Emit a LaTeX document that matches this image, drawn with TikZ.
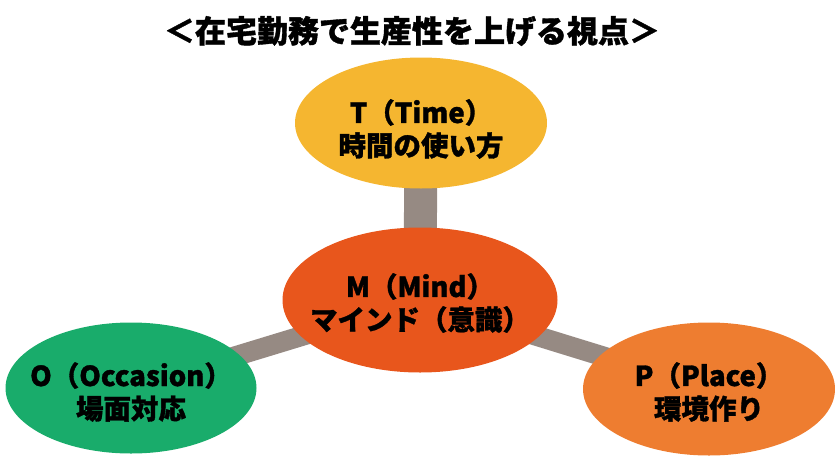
\documentclass[tikz,border=0pt]{standalone}
\usepackage{fontspec}
\setmainfont{Noto Sans CJK JP}[BoldFeatures={FakeBold=1.2}]
\usetikzlibrary{shapes.geometric,backgrounds}

\definecolor{timegold}{HTML}{F5B630}
\definecolor{mindred}{HTML}{E8561C}
\definecolor{placeorange}{HTML}{EE7D30}
\definecolor{occgreen}{HTML}{19AC6B}
\definecolor{linkgray}{HTML}{968A83}

\begin{document}
\begin{tikzpicture}[x=1pt,y=-1pt,
    bubble/.style={ellipse,inner sep=0pt},
    caption/.style={align=center,inner sep=0pt,
      font=\bfseries\fontsize{27.5}{33}\selectfont},
    link/.style={draw=linkgray,line width=20pt}]
    \useasboundingbox (0,0) rectangle (835,455);
    \node (title) at (412,31) {\bfseries\fontsize{31}{31}\selectfont ＜在宅勤務で生産性を上げる視点＞};
    % the four bubbles
    \node[bubble,fill=timegold,minimum width=252pt,minimum height=131pt] (t) at (421,123) {};
    \node[bubble,fill=mindred,minimum width=275pt,minimum height=145pt] (m) at (420,300) {};
    \node[bubble,fill=occgreen,minimum width=251pt,minimum height=131pt] (o) at (131,388) {};
    \node[bubble,fill=placeorange,minimum width=252pt,minimum height=133pt] (p) at (709,389) {};
    % their texts
    \node[caption] (tcap) at ([yshift=-6pt]t.center) {T（Time）\\時間の使い方};
    \node[caption] (mcap) at ([yshift=-3pt]m.center) {M（Mind）\\マインド（意識）};
    \node[caption] (ocap) at ([yshift=-4pt]o.center) {O（Occasion）\\場面対応};
    \node[caption] (pcap) at ([yshift=-3pt]p.center) {P（Place）\\環境作り};
    \begin{scope}[on background layer]
      \draw[link,line width=33pt] (m.center) -- (t.center);
      \draw[link] (m.center) -- (o.center);
      \draw[link] (m.center) -- (p.center);
    \end{scope}
\end{tikzpicture}
\end{document}
